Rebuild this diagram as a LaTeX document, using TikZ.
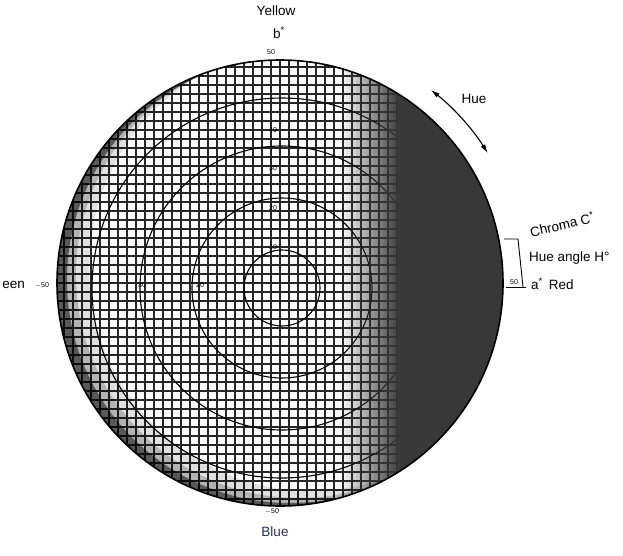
\documentclass[tikz,border=0pt]{standalone}
\usepackage{fontspec}
\setmainfont{Liberation Sans}
\usetikzlibrary{fadings,arrows.meta}

\tikzfading[name=fadeinright,left color=transparent!100,right color=transparent!0]

\begin{document}
\begin{tikzpicture}[x=1pt,y=-1pt,
  lbl/.style={font=\fontsize{13.5}{16}\selectfont,inner sep=0pt},
  ticklbl/.style={font=\fontsize{7}{8}\selectfont,inner sep=0.5pt},
  gridline/.style={black!85,line width=1.5pt},
  ring/.style={black,line width=1.1pt}]
\useasboundingbox[fill=white] (0,0) rectangle (623,555);
\coordinate (c) at (280,283);
% the a*b* plane
\begin{scope}
\clip (c) circle (223);
\fill[white] (c) circle (223);
\foreach \k in {-26,...,26} {
  \draw[gridline] (280+9*\k,50) -- (280+9*\k,520);
  \draw[gridline] (50,283+9*\k) -- (515,283+9*\k);
}
\foreach \r in {38,90,142,190}
  \draw[ring] (282,288) circle (\r);
% dark rim, left and bottom
\fill[black,opacity=.5,even odd rule] (c) circle (223) (290,280) circle (223);
\fill[black,opacity=.2,even odd rule] (c) circle (223) (299,275) circle (223);
\fill[black,opacity=.12,even odd rule] (c) circle (223) (312,268) circle (223);
% dark side towards red
\fill[black!78,path fading=fadeinright] (340,50) rectangle (400,520);
\fill[black!78] (399,50) rectangle (520,520);
\end{scope}
\draw[line width=1.6pt] (c) circle (223);
% axis numbers
\node[ticklbl] (t10) at (273,247) {10};
\node[ticklbl] (t20) at (273,208) {20};
\node[ticklbl] (t30) at (273,168) {30};
\node[ticklbl] (t40) at (273,130) {40};
\node[ticklbl] (l20) at (200,285) {20};
\node[ticklbl] (l30) at (142,285) {30};
\node[ticklbl] (top50) at (271,52) {50};
\node[ticklbl] (bot50) at (272,511) {$-$50};
\node[ticklbl] (left50) at (42,285) {$-$50};
\node[ticklbl] (right50) at (514,282) {50};
% axis names
\node[lbl] (yellow) at (276,11) {Yellow};
\node[lbl] (bstar) at (279,33) {b\textsuperscript{*}};
\node[lbl,text={rgb,255:red,40;green,48;blue,95}] (blue) at (275,532) {Blue};
\node[lbl,anchor=east] (green) at (25,285) {een};
\node[lbl,anchor=west] (red) at (531,284) {a\textsuperscript{*}\, Red};
\node[lbl,anchor=west] (hueangle) at (529,258) {Hue angle H\textdegree};
\node[lbl,rotate=13] (chroma) at (562,224) {Chroma~C\textsuperscript{*}};
\node[lbl] (hue) at (474,99) {Hue};
% chroma bracket
\coordinate (bra) at (504,239);
\coordinate (brb) at (518,239);
\coordinate (brc) at (523,287);
\coordinate (brd) at (506,287);
\coordinate (bre) at (526,287);
\draw[line width=.9pt] (bra) -- (brb) -- (brc);
\draw[line width=.9pt] (brd) -- (bre);
% hue arrow
\coordinate (huea) at ([shift={(-52:245)}]c);
\draw[line width=1.1pt,{Latex[length=9pt,width=5pt]}-{Latex[length=9pt,width=5pt]}]
  (huea) arc[start angle=-52,end angle=-32,radius=245];
\end{tikzpicture}
\end{document}
